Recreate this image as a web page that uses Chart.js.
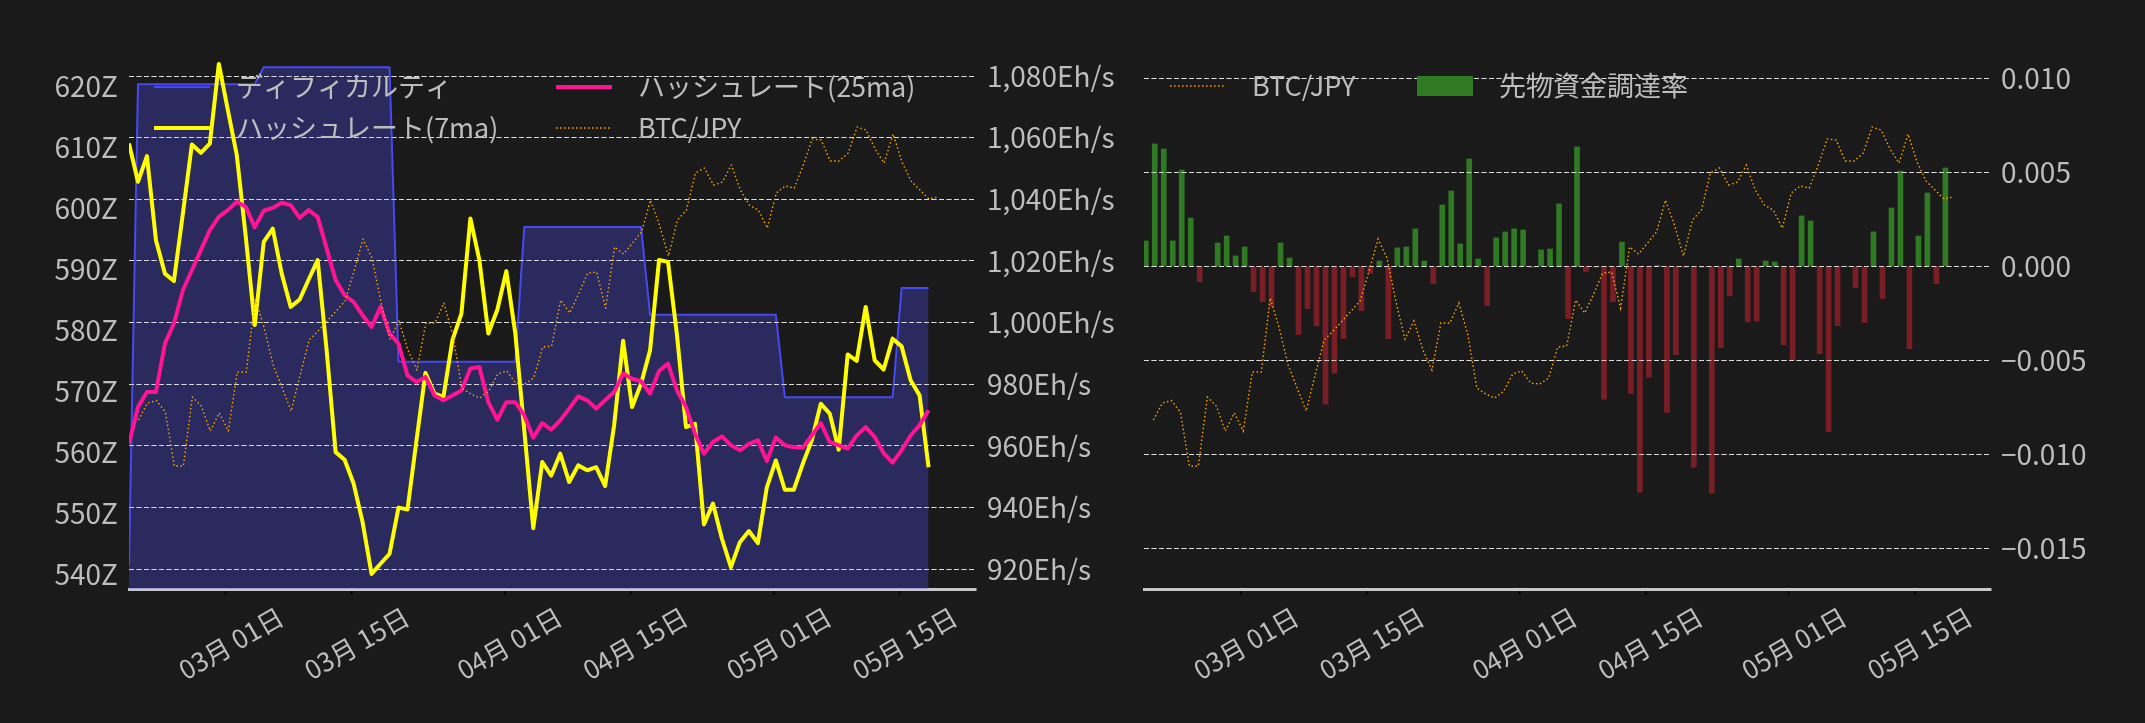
<!DOCTYPE html>
<html lang="ja">
<head>
<meta charset="utf-8">
<title>ハッシュレート / 先物資金調達率</title>
<script src="https://cdn.jsdelivr.net/npm/chart.js@4.4.1/dist/chart.umd.min.js"></script>
<style>
    html, body { margin: 0; padding: 0; background: #1a1a1a; }
    #wrap { position: relative; width: 2145px; height: 723px; overflow: hidden; background: #1a1a1a; }
    canvas { position: absolute; top: 0; }
    #hashChart { left: 0; }
    #fundChart { left: 1060px; }
</style>
</head>
<body>
<div id="wrap">
    <canvas id="hashChart" width="1140" height="723"></canvas>
    <canvas id="fundChart" width="1085" height="723"></canvas>
</div>
<script>
// --- Data (daily, 2025-02-18 .. 2025-05-18) ---
const hashStart = '2025-02-18';
const btcStart = '2025-02-19';

// ディフィカルティ (Z)
const difficulty = [
    541.5,
    620.4, 620.4, 620.4, 620.4, 620.4, 620.4, 620.4, 620.4, 620.4, 620.4, 620.4, 620.4, 620.4, 620.4,
    623.2, 623.2, 623.2, 623.2, 623.2, 623.2, 623.2, 623.2, 623.2, 623.2, 623.2, 623.2, 623.2, 623.2, 623.2,
    574.9, 574.9, 574.9, 574.9, 574.9, 574.9, 574.9, 574.9, 574.9, 574.9, 574.9, 574.9, 574.9, 574.9,
    597.0, 597.0, 597.0, 597.0, 597.0, 597.0, 597.0, 597.0, 597.0, 597.0, 597.0, 597.0, 597.0, 597.0,
    582.6, 582.6, 582.6, 582.6, 582.6, 582.6, 582.6, 582.6, 582.6, 582.6, 582.6, 582.6, 582.6, 582.6, 582.6,
    569.1, 569.1, 569.1, 569.1, 569.1, 569.1, 569.1, 569.1, 569.1, 569.1, 569.1, 569.1, 569.1,
    587.0, 587.0, 587.0, 587.0
];

// ハッシュレート 7日移動平均 (Eh/s)
const hash7ma = [
    1058.1, 1045.7, 1054.0, 1026.7, 1015.9, 1013.5, 1035.4, 1057.8, 1055.1, 1058.1,
    1083.9, 1069.0, 1054.3, 1027.8, 999.2, 1026.2, 1030.5, 1015.9, 1005.1, 1007.5,
    1014.0, 1020.3, 991.0, 958.0, 955.5, 947.8, 935.3, 918.5, 921.8, 925.0,
    940.0, 939.4, 961.8, 983.7, 977.0, 975.9, 994.3, 1002.9, 1033.8, 1020.3,
    996.5, 1004.2, 1016.7, 996.5, 965.1, 933.3, 954.8, 950.4, 957.5, 948.3,
    953.7, 952.1, 953.1, 947.0, 966.7, 994.1, 972.6, 980.2, 991.0, 1020.3,
    1019.7, 995.9, 966.1, 967.2, 934.5, 941.3, 929.9, 920.7, 928.8, 932.4,
    928.5, 946.6, 955.3, 945.8, 945.8, 954.2, 961.8, 973.7, 970.5, 958.8,
    989.7, 987.6, 1005.1, 987.8, 984.8, 994.8, 992.3, 981.3, 976.4, 953.1
];

// ハッシュレート 25日移動平均 (Eh/s)
const hash25ma = [
    960.7, 972.6, 977.5, 977.5, 993.2, 999.7, 1010.5, 1017.0, 1023.5, 1030.0,
    1034.3, 1036.5, 1039.2, 1037.6, 1030.9, 1036.3, 1037.2, 1038.9, 1038.1, 1034.0,
    1036.5, 1034.3, 1024.1, 1013.8, 1008.9, 1006.7, 1002.4, 998.6, 1005.1, 996.5,
    993.2, 982.9, 980.7, 982.4, 976.4, 974.8, 976.4, 978.0, 985.1, 985.6,
    974.2, 968.5, 974.2, 974.2, 969.9, 962.7, 967.4, 965.3, 968.3, 972.1,
    976.1, 974.8, 972.1, 974.8, 977.5, 983.5, 981.8, 981.0, 977.0, 984.3,
    986.7, 978.0, 972.6, 964.0, 957.5, 961.3, 963.1, 960.2, 958.6, 960.7,
    961.8, 955.1, 962.7, 960.2, 959.6, 959.4, 963.4, 967.4, 961.3, 960.2,
    959.1, 963.4, 966.1, 962.9, 957.7, 954.6, 958.6, 963.4, 966.7, 971.6
];

// BTC/JPY (円)
const btcJpy = [
    13408000, 13550000, 13571000, 13475000, 13023000, 13023000, 13600000, 13525000, 13316000, 13467000,
    13316000, 13809000, 13809000, 14428000, 14177000, 13868000, 13676000, 13483000, 13784000, 14077000,
    14152000, 14236000, 14319000, 14403000, 14654000, 14921000, 14763000, 14395000, 14085000, 14236000,
    13993000, 13826000, 14219000, 14219000, 14386000, 14119000, 13676000, 13625000, 13592000, 13651000,
    13793000, 13818000, 13717000, 13709000, 13759000, 14018000, 14027000, 14411000, 14303000, 14462000,
    14637000, 14645000, 14344000, 14855000, 14796000, 14888000, 14980000, 15247000, 15038000, 14779000,
    15080000, 15164000, 15473000, 15515000, 15373000, 15398000, 15540000, 15331000, 15206000, 15164000,
    15013000, 15306000, 15365000, 15348000, 15540000, 15758000, 15749000, 15574000, 15574000, 15640000,
    15858000, 15833000, 15674000, 15557000, 15799000, 15565000, 15406000, 15331000, 15256000, 15273000
];

// 先物資金調達率
const fundingRate = [
    0.00135, 0.00651, 0.00624, 0.00135, 0.00512, 0.00257, -0.00082, 0.0, 0.00124, 0.00161,
    0.00055, 0.00103, -0.00135, -0.00188, -0.00215, 0.00124, 0.00044, -0.00363, -0.00225, -0.00316,
    -0.00734, -0.00569, -0.00385, -0.00055, -0.00236, -0.00037, 0.00028, -0.00385, 0.00098, 0.00103,
    0.00199, 0.00028, -0.00092, 0.00326, 0.00401, 0.00119, 0.00571, 0.00039, -0.00209, 0.00151,
    0.00183, 0.00199, 0.00193, -0.00007, 0.00087, 0.00092, 0.00332, -0.00278, 0.00635, -0.00028,
    -0.00007, -0.00707, -0.00188, 0.00129, -0.00676, -0.01202, -0.0059, 0.00004, -0.00777, -0.0047,
    -0.00007, -0.01069, -0.00007, -0.01207, -0.00433, -0.00158, 0.00039, -0.00296, -0.00291, 0.00028,
    0.00023, -0.00417, -0.00498, 0.00268, 0.00241, -0.00465, -0.0088, -0.00316, 0.0, -0.00113,
    -0.003, 0.00183, -0.00172, 0.0031, 0.00507, -0.00438, 0.00161, 0.0039, -0.00092, 0.00523
];

// x ticks: days counted from 03-01
const tickDays = [0, 14, 31, 45, 61, 75];
const tickLabels = ['03月 01日', '03月 15日', '04月 01日', '04月 15日', '05月 01日', '05月 15日'];
const diffTicks = [540, 550, 560, 570, 580, 590, 600, 610, 620];
const hashTicks = [920, 940, 960, 980, 1000, 1020, 1040, 1060, 1080];
const fundTicks = [-0.015, -0.010, -0.005, 0.000, 0.005, 0.010];

// --- Helpers ---
const FONT = '"Noto Sans CJK JP", "Noto Sans", sans-serif';
const TEXT = '#bdbdbd';
const GRID = 'rgba(225, 225, 225, 0.85)';
const GREEN = '#2f7a22';
const RED = '#7a1e26';

Chart.defaults.font.family = FONT;
Chart.defaults.color = TEXT;

function dayNum(iso) {
    // days since 2025-03-01 (UTC)
    const [y, m, d] = iso.split('-').map(Number);
    return (Date.UTC(y, m - 1, d) - Date.UTC(2025, 2, 1)) / 86400000;
}

function points(start, values, shift) {
    const d0 = dayNum(start);
    return values.map((v, i) => ({ x: d0 + i + shift, y: v }));
}

const minus = v => (v < 0 ? '\u2212' : '') + Math.abs(v).toFixed(3);

// legend drawn inside the plot area, matplotlib-like
const inlineLegend = {
    id: 'inlineLegend',
    afterDatasetsDraw(chart, args, opts) {
        const { ctx, chartArea } = chart;
        ctx.save();
        ctx.font = `${opts.size}px ${FONT}`;
        ctx.textBaseline = 'middle';
        opts.items.forEach(item => {
            const ds = chart.data.datasets[item.index];
            const x = chartArea.left + item.x;
            const y = chartArea.top + item.y;
            if (ds.type === 'bar') {
                ctx.fillStyle = GREEN;
                ctx.fillRect(x, y - 10, 56, 20);
            } else {
                ctx.beginPath();
                ctx.strokeStyle = ds.borderColor;
                ctx.lineWidth = ds.borderWidth;
                ctx.setLineDash(ds.borderDash || []);
                ctx.moveTo(x, y);
                ctx.lineTo(x + 56, y);
                ctx.stroke();
                ctx.setLineDash([]);
            }
            ctx.fillStyle = TEXT;
            ctx.fillText(ds.label, x + 82, y);
        });
        ctx.restore();
    }
};

// grid above filled areas / bars but below lines
const gridOverFill = {
    id: 'gridOverFill',
    afterDatasetDraw(chart, args, opts) {
        if (args.index !== opts.datasetIndex) return;
        const scale = chart.scales[opts.scaleID];
        if (scale && typeof scale.drawGrid === 'function') scale.drawGrid(chart.chartArea);
    }
};

function xAxis() {
    return {
        type: 'linear',
        min: -10.8,
        max: 83.48,
        offset: false,
        afterBuildTicks: ax => { ax.ticks = tickDays.map(v => ({ value: v })); },
        afterFit: ax => { ax.height = 134; },
        grid: { display: true, offset: false, drawOnChartArea: false, drawTicks: true, tickLength: 6, color: '#000', lineWidth: 1.5 },
        border: { display: true, color: '#c8c8c8', width: 3 },
        ticks: {
            color: TEXT,
            font: { size: 26 },
            autoSkip: false,
            minRotation: 30,
            maxRotation: 30,
            padding: 6,
            labelOffset: 55,
            callback: v => tickLabels[tickDays.indexOf(v)]
        }
    };
}

const btcAxis = { display: false, min: 11995000, max: 16569000 };

// --- Left: difficulty / hashrate ---
new Chart(document.getElementById('hashChart'), {
    type: 'line',
    data: {
        datasets: [
            {
                label: 'BTC/JPY',
                data: points(btcStart, btcJpy, 0.25),
                yAxisID: 'yB',
                borderColor: '#ffa500',
                borderWidth: 1.4,
                borderDash: [1.5, 2.5],
                order: 0
            },
            {
                label: 'ハッシュレート(25ma)',
                data: points(hashStart, hash25ma, 0.2),
                yAxisID: 'yH',
                borderColor: '#ff1493',
                borderWidth: 4,
                order: 1
            },
            {
                label: 'ハッシュレート(7ma)',
                data: points(hashStart, hash7ma, 0.2),
                yAxisID: 'yH',
                borderColor: '#ffff00',
                borderWidth: 4,
                order: 2
            },
            {
                label: 'ディフィカルティ',
                data: points(hashStart, difficulty, 0.2),
                yAxisID: 'yD',
                borderColor: '#4848f0',
                borderWidth: 2,
                fill: 'start',
                backgroundColor: 'rgba(80, 80, 255, 0.3)',
                order: 3
            }
        ]
    },
    options: {
        responsive: false,
        animation: false,
        devicePixelRatio: 1,
        layout: { padding: { top: 42, left: 0, right: 0, bottom: 0 } },
        elements: {
            point: { radius: 0, hoverRadius: 0 },
            line: { tension: 0, borderJoinStyle: 'round', borderCapStyle: 'butt' }
        },
        plugins: {
            legend: { display: false },
            tooltip: { enabled: false },
            gridOverFill: { datasetIndex: 3, scaleID: 'yH' },
            inlineLegend: {
                size: 27,
                items: [
                    { index: 3, x: 25, y: 45 },
                    { index: 2, x: 25, y: 86 },
                    { index: 1, x: 427, y: 45 },
                    { index: 0, x: 427, y: 86 }
                ]
            }
        },
        scales: {
            x: xAxis(),
            yD: {
                position: 'left',
                min: 537.66,
                max: 627.33,
                afterBuildTicks: ax => { ax.ticks = diffTicks.map(v => ({ value: v })); },
                afterFit: ax => { ax.width = 129; },
                grid: { display: false, drawTicks: false },
                border: { display: false },
                ticks: { color: TEXT, font: { size: 28 }, padding: 11, callback: v => v + 'Z' }
            },
            yH: {
                position: 'right',
                min: 913.6,
                max: 1091.03,
                afterBuildTicks: ax => { ax.ticks = hashTicks.map(v => ({ value: v })); },
                afterFit: ax => { ax.width = 164; },
                grid: { color: GRID, lineWidth: 1, drawTicks: false },
                border: { display: false, dash: [5, 2.5] },
                ticks: { color: TEXT, font: { size: 28 }, padding: 11, callback: v => v.toLocaleString('en-US') + 'Eh/s' }
            },
            yB: btcAxis
        }
    },
    plugins: [gridOverFill, inlineLegend]
});

// --- Right: BTC/JPY / funding rate ---
new Chart(document.getElementById('fundChart'), {
    type: 'bar',
    data: {
        datasets: [
            {
                type: 'line',
                label: 'BTC/JPY',
                data: points(btcStart, btcJpy, 0.25),
                yAxisID: 'yB',
                borderColor: '#ffa500',
                borderWidth: 1.4,
                borderDash: [1.5, 2.5],
                pointRadius: 0,
                order: 0
            },
            {
                type: 'bar',
                label: '先物資金調達率',
                data: points(hashStart, fundingRate, 0.4),
                yAxisID: 'yF',
                backgroundColor: fundingRate.map(v => (v >= 0 ? GREEN : RED)),
                barThickness: 5,
                order: 1
            }
        ]
    },
    options: {
        responsive: false,
        animation: false,
        devicePixelRatio: 1,
        layout: { padding: { top: 42, left: 84, right: 0, bottom: 0 } },
        elements: {
            point: { radius: 0, hoverRadius: 0 },
            line: { tension: 0, borderCapStyle: 'butt' }
        },
        plugins: {
            legend: { display: false },
            tooltip: { enabled: false },
            gridOverFill: { datasetIndex: 1, scaleID: 'yF' },
            inlineLegend: {
                size: 27,
                items: [
                    { index: 0, x: 26, y: 44 },
                    { index: 1, x: 273, y: 44 }
                ]
            }
        },
        scales: {
            x: xAxis(),
            yF: {
                position: 'right',
                min: -0.017165,
                max: 0.01193,
                afterBuildTicks: ax => { ax.ticks = fundTicks.map(v => ({ value: v })); },
                afterFit: ax => { ax.width = 154; },
                grid: { color: GRID, lineWidth: 1, drawTicks: false },
                border: { display: false, dash: [5, 2.5] },
                ticks: { color: TEXT, font: { size: 28 }, padding: 10, callback: v => minus(v) }
            },
            yB: btcAxis
        }
    },
    plugins: [gridOverFill, inlineLegend]
});
</script>
</body>
</html>
